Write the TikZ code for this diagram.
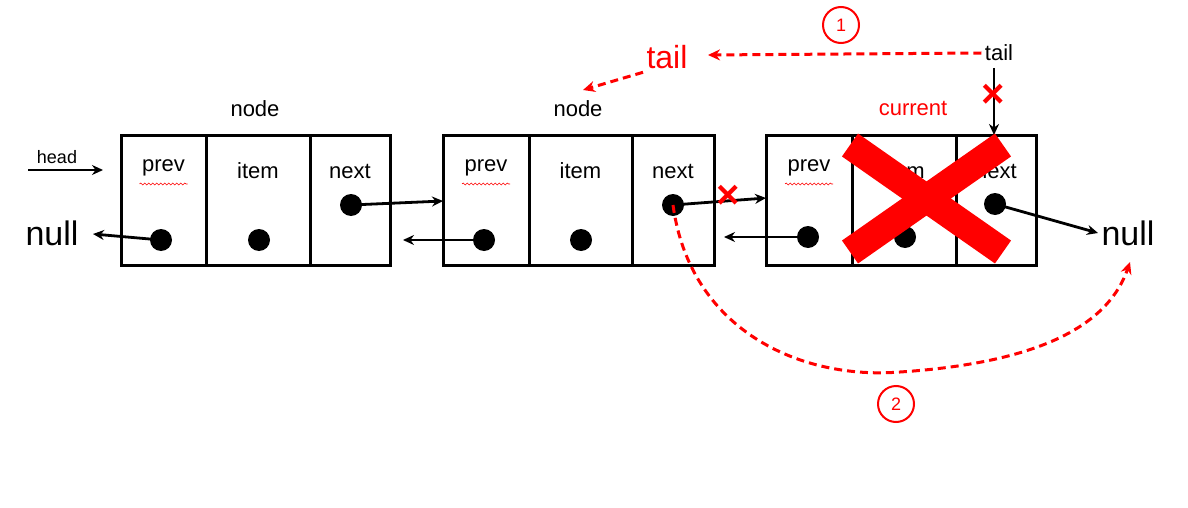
\documentclass[tikz,border=0pt]{standalone}
\usepackage{fontspec}
\setmainfont{Liberation Sans}
\usetikzlibrary{arrows.meta,decorations.pathmorphing}
\begin{document}
\begin{tikzpicture}[x=1pt,y=-1pt,
  box/.style={draw,line width=3pt},
  lbl/.style={font=\fontsize{22}{24}\selectfont},
  dot/.style={circle,fill=black,minimum size=22pt,inner sep=0pt},
  ar/.style={line width=2.8pt,-{Stealth[length=11pt,width=10pt]}},
  rar/.style={red,line width=3pt,dash pattern=on 8pt off 5pt,-{Stealth[length=12pt,width=11pt]}},
  rx/.style={font=\bfseries\fontsize{40}{40}\selectfont,text=red},
  wav/.style={red,line width=0.6pt,decorate,decoration={snake,amplitude=1pt,segment length=4pt}}]
\useasboundingbox (0,0) rectangle (1188,508);
% boxes
\foreach \a/\b/\c/\d/\n in {121/206/310/390/A,443/529/632/714/B,766/852/956/1036/C}{
  \draw[box] (\a,136) rectangle (\d,265);
  \draw[box] (\b,136) -- (\b,265);
  \draw[box] (\c,136) -- (\c,265);
  \node[lbl] (\n p) at ({(\a+\b)/2},168) {prev};
  \node[lbl] (\n i) at ({(\b+\c)/2},171) {item};
  \node[lbl] (\n n) at ({(\c+\d)/2},171) {next};
  \draw[wav] ({(\a+\b)/2-24},184) -- ({(\a+\b)/2+24},184);
}
\node[dot] (a1) at (161,240) {};
\node[dot] (a2) at (259,240) {};
\node[dot] (a3) at (351,205) {};
\node[dot] (b1) at (484,240) {};
\node[dot] (b2) at (581,240) {};
\node[dot] (b3) at (673,205) {};
\node[dot] (c1) at (808,237) {};
\node[dot] (c2) at (905,237) {};
\node[dot] (c3) at (995,204) {};
\node[font=\fontsize{34}{36}\selectfont] (nullL) at (52,233) {null};
\node[font=\fontsize{34}{36}\selectfont] (nullR) at (1128,233) {null};
\node[font=\fontsize{18}{20}\selectfont] (head) at (57,157) {head};
\coordinate (h0) at (28,170); \coordinate (h1) at (103,170);
\draw[ar] (h0) -- (h1);
\node[lbl] (n1) at (255,109) {node};
\node[lbl] (n2) at (578,109) {node};
\node[lbl,text=red] (cur) at (913,108) {current};
\node[lbl] (tail) at (999,53) {tail};
\node[font=\fontsize{32}{34}\selectfont,text=red] (rtail) at (667,57) {tail};
\draw[ar] (a1.center) -- (93,234);
\draw[ar] (a3.center) -- (443,201);
\draw[ar] (b1.center) -- (403,240);
\draw[ar] (b3.center) -- (766,198);
\draw[ar] (c1.center) -- (724,237);
\draw[ar] (c3.center) -- (nullR.west);
\coordinate (t1) at (994,135);
\draw[ar] (994,68) -- (t1);
\node[rx] at (728,197) {×};
\node[rx] at (993,96) {×};
\draw[rar] (tail.west) -- (708,55);
\draw[rar] (rtail.south west) -- (583,90);
\draw[rar] (b3.center) .. controls (690,330) and (800,380) .. (900,372) .. controls (1050,362) and (1110,320) .. (1130,262);
\node[circle,draw=red,line width=2pt,text=red,minimum size=36pt,inner sep=0pt,font=\fontsize{18}{18}\selectfont] at (841,25) {1};
\node[circle,draw=red,line width=2pt,text=red,minimum size=36pt,inner sep=0pt,font=\fontsize{18}{18}\selectfont] at (896,404) {2};
\draw[red,line width=28pt] (850,145) -- (1003,252);
\draw[red,line width=28pt] (850,252) -- (1003,145);
\end{tikzpicture}
\end{document}
